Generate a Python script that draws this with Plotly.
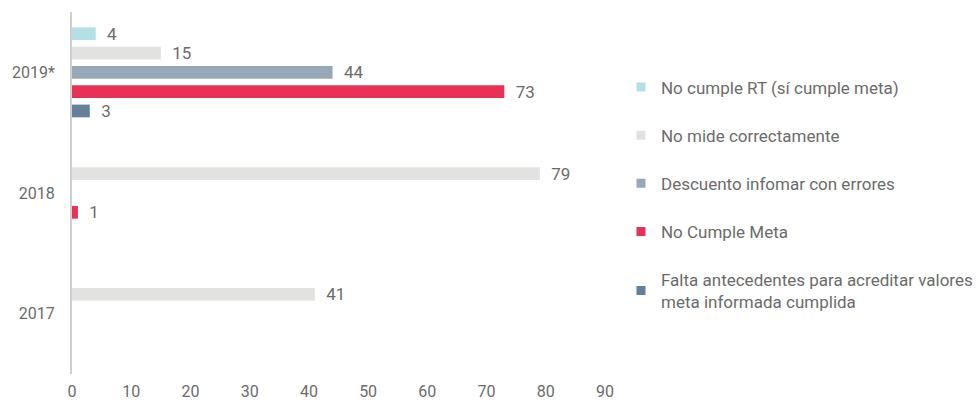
import plotly.graph_objects as go

categories = ["2017", "2018", "2019*"]
series_names = [
    "No cumple RT (sí cumple meta)",
    "No mide correctamente",
    "Descuento infomar con errores",
    "No Cumple Meta",
    "Falta antecedentes para acreditar valores<br>meta informada cumplida",
]
values_no_cumple_rt = [None, None, 4]
values_no_mide = [41, 79, 15]
values_descuento = [None, None, 44]
values_no_cumple_meta = [None, 1, 73]
values_falta = [None, None, 3]
series_values = [values_no_cumple_rt, values_no_mide, values_descuento,
                 values_no_cumple_meta, values_falta]
colors = ["#b3dfe5", "#e2e2e1", "#97a8b9", "#e83157", "#637f9b"]
x_ticks = [0, 10, 20, 30, 40, 50, 60, 70, 80, 90]

FONT = "Roboto"
GREY = "#6b6b6b"

fig = go.Figure()
# add in reverse so first series is on top within each group
for i in reversed(range(len(series_names))):
    fig.add_trace(go.Bar(
        y=categories, x=series_values[i], orientation="h",
        marker=dict(color=colors[i], line=dict(width=0)),
        texttemplate="\u00a0\u00a0%{x}", textposition="outside",
        constraintext="none",
        textfont=dict(family=FONT, size=17, color=GREY),
        cliponaxis=False, showlegend=False, hoverinfo="skip",
    ))
for i in range(len(series_names)):
    fig.add_trace(go.Scatter(
        x=[None], y=[None], mode="markers", name=series_names[i],
        marker=dict(symbol="square", size=9, color=colors[i]),
        legendgroup=f"g{i}", showlegend=True,
    ))

fig.update_layout(
    width=978, height=403,
    margin=dict(l=72, r=373, t=12, b=29, autoexpand=False),
    paper_bgcolor="white", plot_bgcolor="white",
    barmode="group", bargap=0.2, bargroupgap=0.34,
    font=dict(family=FONT, size=16, color=GREY),
    legend=dict(
        x=1.03, xanchor="left", y=0.841, yanchor="top",
        font=dict(family=FONT, size=17, color=GREY),
        traceorder="grouped", tracegroupgap=23,
        itemwidth=30, bgcolor="rgba(0,0,0,0)",
    ),
    xaxis=dict(
        range=[0, 90], tickvals=x_ticks, showgrid=False, zeroline=False,
        showline=False, ticks="", ticklabelstandoff=6, automargin=False,
        tickfont=dict(family=FONT, size=16, color=GREY), fixedrange=True,
    ),
    yaxis=dict(
        categoryorder="array", categoryarray=categories,
        range=[-0.5, 2.5], showgrid=False, zeroline=False, automargin=False,
        showline=True, linecolor="#cfcfcf", linewidth=2, ticks="",
        ticklabelstandoff=12,
        tickfont=dict(family=FONT, size=16, color=GREY),
    ),
)
fig.write_html("out.html")
